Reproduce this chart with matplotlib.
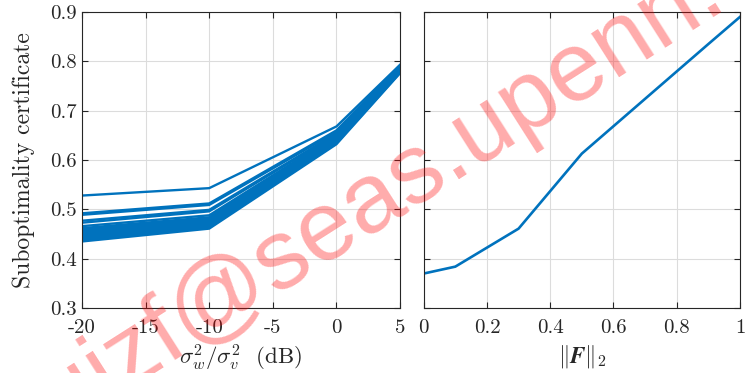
import matplotlib
matplotlib.use('Agg')
import matplotlib.pyplot as plt

plt.rcParams['font.family'] = 'cmr10'
plt.rcParams['mathtext.fontset'] = 'cm'
plt.rcParams['axes.unicode_minus'] = False
plt.rcParams['axes.formatter.use_mathtext'] = True

# left panel: certificate vs noise ratio, one line per run
snr_db = [-20, -10, 0, 5]
cert_runs = [
    [0.528, 0.543, 0.668, 0.793],
    [0.492, 0.512, 0.660, 0.792],
    [0.489, 0.509, 0.657, 0.791],
    [0.477, 0.499, 0.654, 0.790],
    [0.473, 0.496, 0.652, 0.789],
    [0.466, 0.488, 0.650, 0.788],
    [0.462, 0.484, 0.648, 0.787],
    [0.459, 0.481, 0.646, 0.786],
    [0.456, 0.478, 0.644, 0.785],
    [0.453, 0.475, 0.642, 0.784],
    [0.450, 0.472, 0.640, 0.783],
    [0.447, 0.469, 0.638, 0.781],
    [0.444, 0.467, 0.637, 0.780],
    [0.441, 0.465, 0.636, 0.779],
    [0.438, 0.463, 0.634, 0.777],
    [0.435, 0.461, 0.632, 0.776],
]

# right panel: certificate vs ||F||_2
f_norm = [0.0, 0.1, 0.3, 0.5, 0.7, 0.9, 1.0]
cert_f = [0.370, 0.384, 0.461, 0.613, 0.724, 0.835, 0.890]

blue = '#0072BD'
fig = plt.figure(figsize=(7.45, 3.73), dpi=100)
ax1 = fig.add_axes([0.110, 0.174, 0.427, 0.794])
ax2 = fig.add_axes([0.5687, 0.174, 0.4246, 0.794])

for run in cert_runs:
    ax1.plot(snr_db, run, color=blue, lw=1.7)
ax2.plot(f_norm, cert_f, color=blue, lw=1.9)

for ax in (ax1, ax2):
    ax.set_ylim(0.3, 0.9)
    ax.set_yticks([0.3, 0.4, 0.5, 0.6, 0.7, 0.8, 0.9])
    ax.grid(True, color='#dcdcdc', lw=0.8)
    ax.set_axisbelow(True)
    ax.tick_params(direction='in', top=True, right=True, labelsize=15,
                   colors='#262626', length=4)
    ax.tick_params(axis='x', pad=8)
    for s in ax.spines.values():
        s.set_color('#262626')
        s.set_linewidth(0.8)

ax1.set_xlim(-20, 5)
ax1.set_xticks([-20, -15, -10, -5, 0, 5])
ax1.set_xticklabels(['-20', '-15', '-10', '-5', '0', '5'])
ax1.set_yticklabels(['0.3', '0.4', '0.5', '0.6', '0.7', '0.8', '0.9'])
ax1.set_xlabel(r'$\sigma_w^2/\sigma_v^2$  (dB)', fontsize=16.5, color='#262626', labelpad=4)
ax1.set_ylabel('Suboptimality certificate', fontsize=17, color='#262626', labelpad=11)

ax2.set_xlim(0, 1)
ax2.set_xticks([0, 0.2, 0.4, 0.6, 0.8, 1])
ax2.set_xticklabels(['0', '0.2', '0.4', '0.6', '0.8', '1'])
ax2.set_yticklabels([])
ax2.set_xlabel(r'$\|\boldsymbol{F}\|_2$', fontsize=16.5, color='#262626', labelpad=4)

# watermark
fig.text(0.045, -0.195, 'ruizf@seas.upenn.edu', fontsize=71, family='Liberation Sans',
         color='#ff0000', alpha=0.33, rotation=32.5, rotation_mode='anchor',
         ha='left', va='baseline', zorder=10)

fig.savefig('out.png', dpi=100)
